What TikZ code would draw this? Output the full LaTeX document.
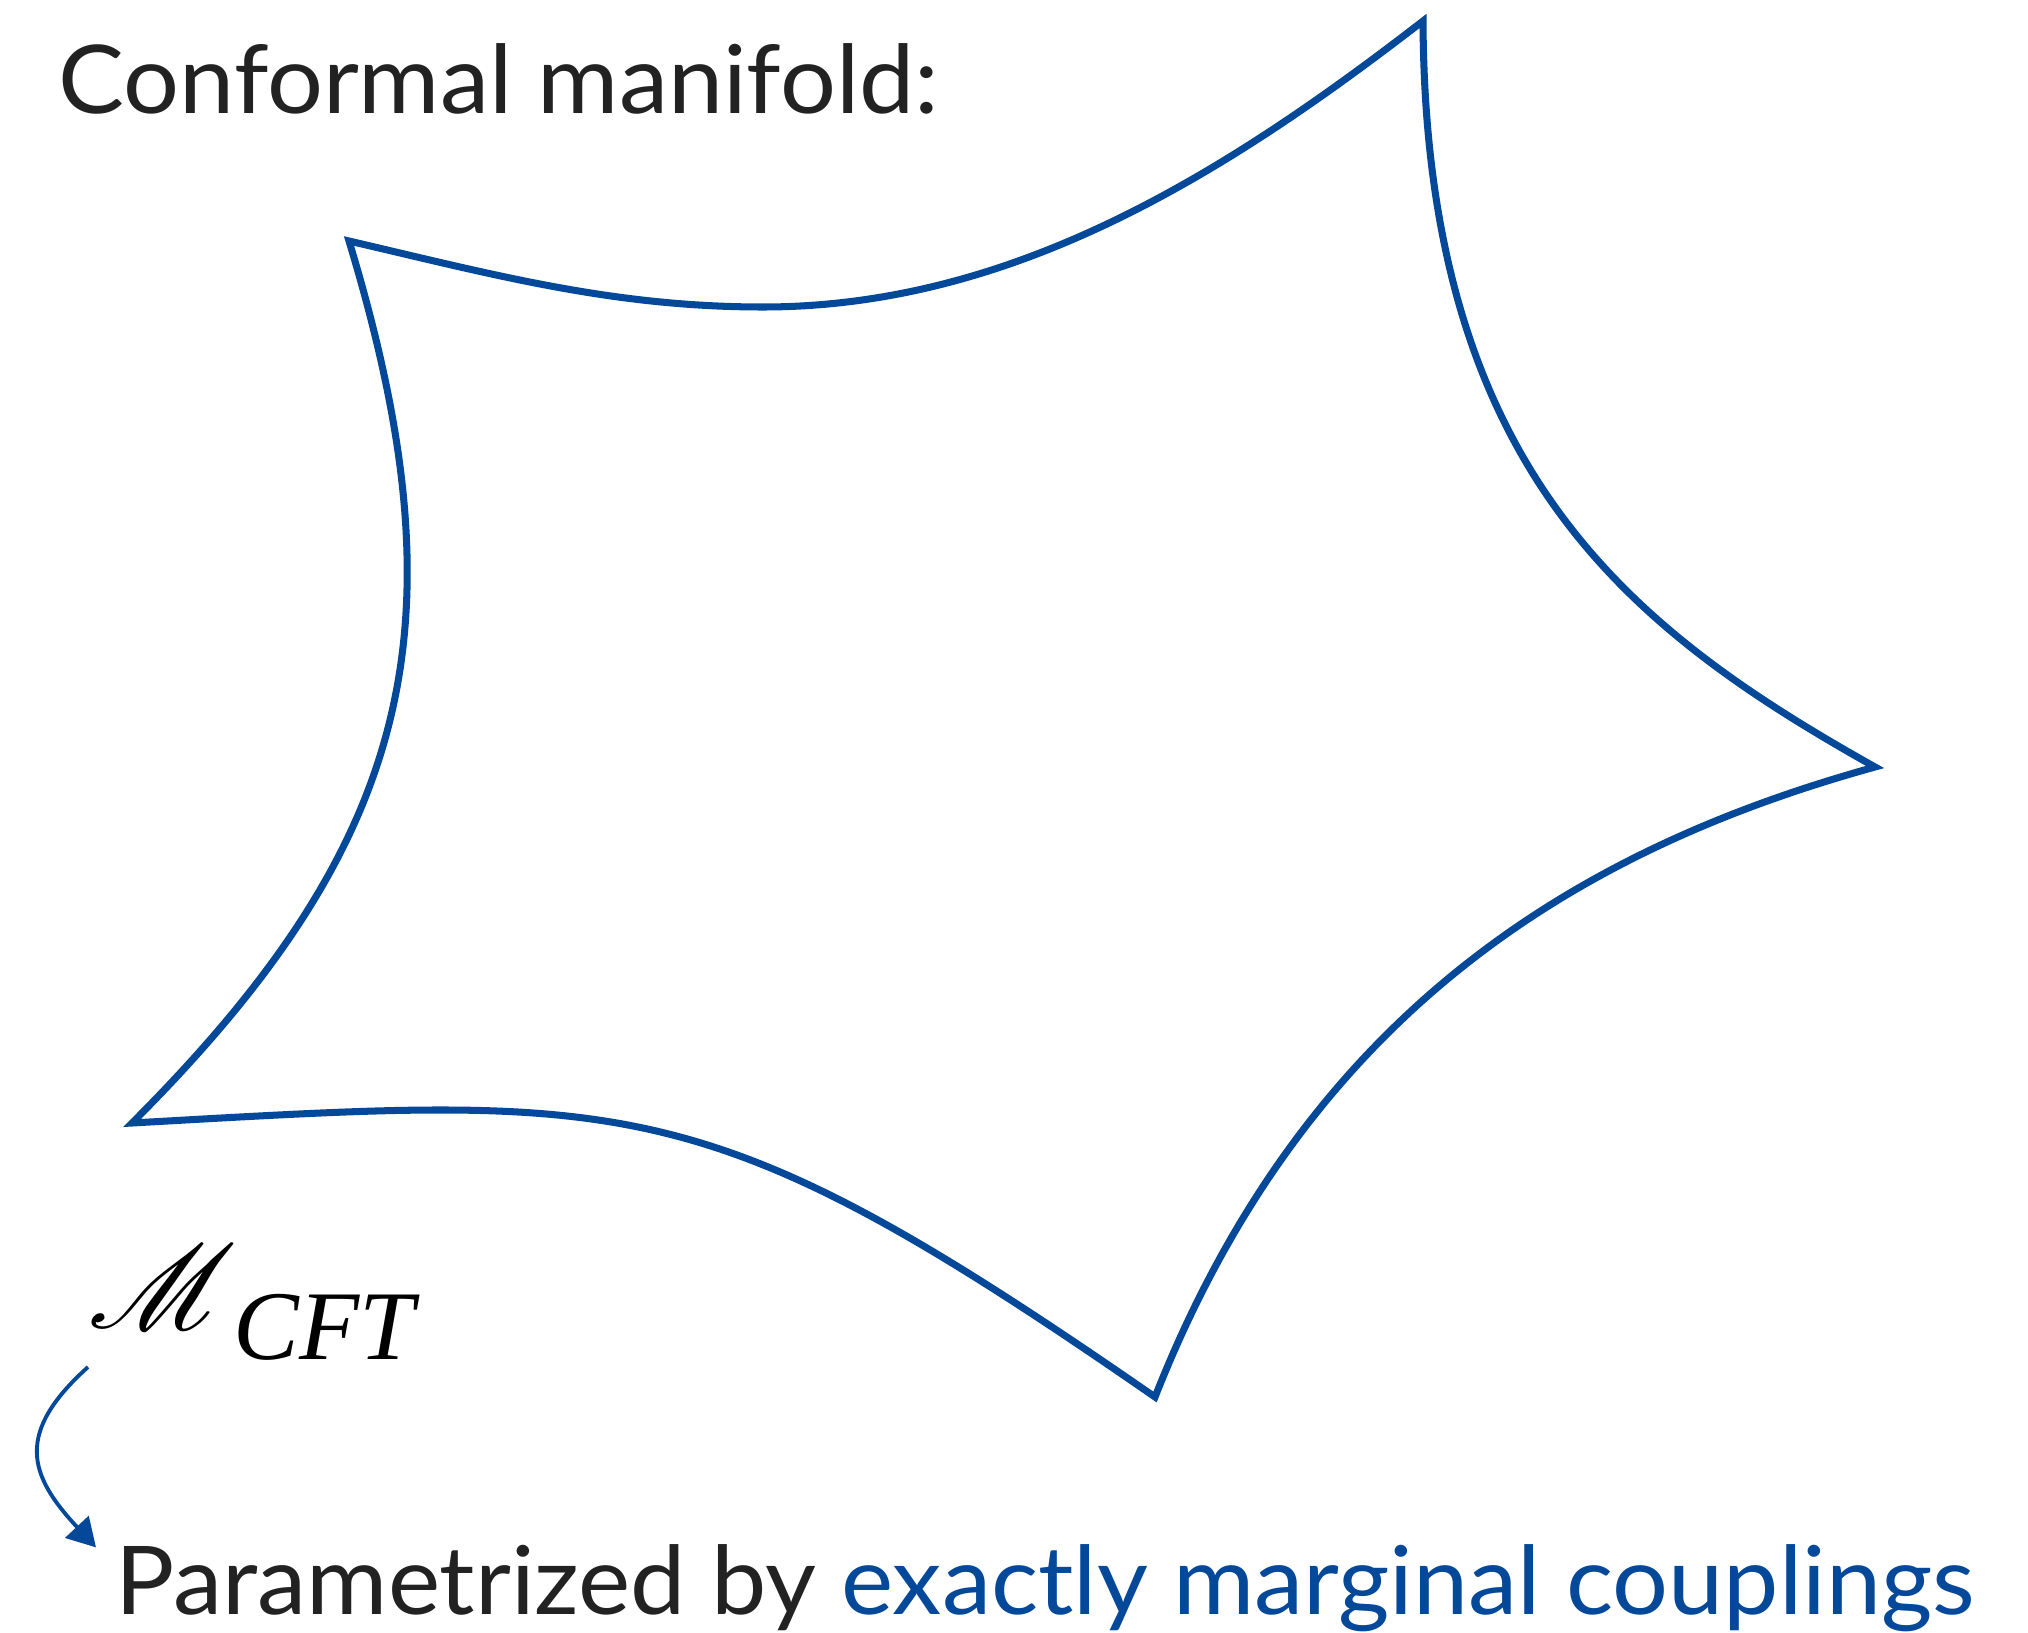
\documentclass[tikz,border=0pt]{standalone}
\usepackage{fontspec}
\usepackage{amsmath,mathrsfs}
\DeclareFontFamily{U}{rsfs}{\skewchar\font127}
\DeclareFontShape{U}{rsfs}{m}{n}{<-> rsfs10}{}
\setmainfont[FakeStretch=1.04]{Lato}
\newfontfamily\cftfont{Liberation Serif}
\definecolor{maniblue}{RGB}{4,72,154}
\definecolor{inkgray}{RGB}{34,34,34}
\usetikzlibrary{arrows.meta,calc}

\begin{document}
\begin{tikzpicture}[x=0.01cm, y=0.01cm,
    label text/.style={inner sep=0pt, anchor=base west, text=inkgray, font=\fontsize{27}{31}\selectfont},
    manifold line/.style={draw=maniblue, line width=2pt, line join=miter},
    flow arrow/.style={draw=maniblue, line width=1.1pt, -{Triangle[length=8pt, width=9pt]}}]
    \useasboundingbox (0,0) rectangle (2028,1632);

    \node[label text] (title) at (58,1518) {Conformal manifold:};

    \draw[manifold line] (349,1391)
        .. controls (495,1357) and (613,1325) .. (763,1325)
        .. controls (1013,1325) and (1225,1458) .. (1423,1611)
        .. controls (1425,1161) and (1631,1002) .. (1875,865)
        .. controls (1586,785) and (1309,626) .. (1155,235)
        .. controls (703,548) and (631,537) .. (132,509)
        .. controls (415,792) and (465,1008) .. (349,1391)
        -- cycle;

    \node[label text, text=black, font=\fontsize{34}{38}\selectfont] (mcft) at (88,304)
        {$\mathscr{M}$\kern-1pt\raisebox{-9pt}{\fontsize{28}{30}\selectfont\cftfont\itshape CFT}};

    \node[label text] (param) at (115,18)
        {Parametrized by \textcolor{maniblue}{exactly marginal couplings}};

    \draw[flow arrow] ([shift={(0,-39)}]mcft.base west)
        to[out=222, in=133, looseness=1.4] ([shift={(-19,-4)}]param.north west);
\end{tikzpicture}
\end{document}
